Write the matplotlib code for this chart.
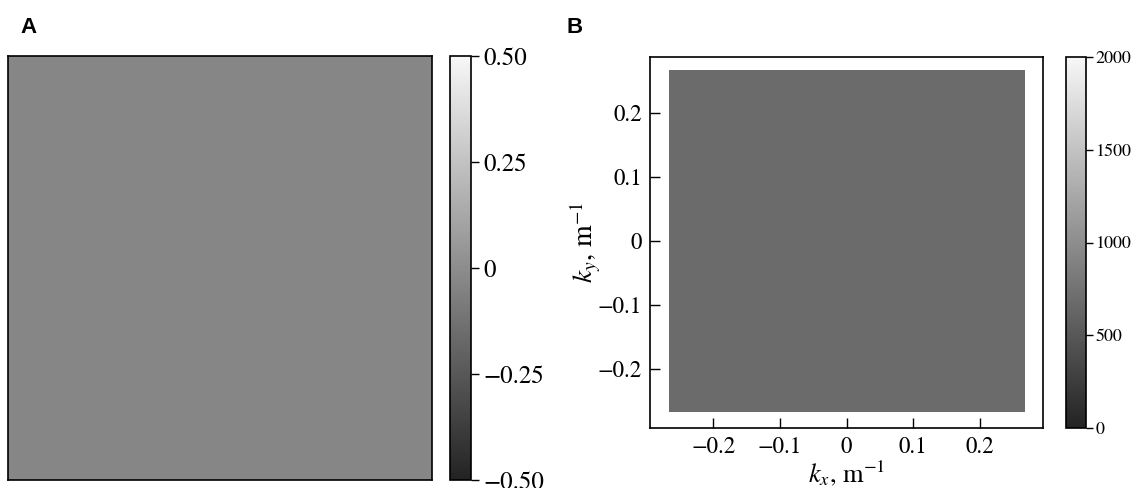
import matplotlib
matplotlib.use("Agg")
import matplotlib.pyplot as plt
import numpy as np
from matplotlib.colors import LinearSegmentedColormap, Normalize
from matplotlib.cm import ScalarMappable

plt.rcParams['font.family'] = ['STIXGeneral', 'DejaVu Serif']
plt.rcParams['mathtext.fontset'] = 'stix'

# ---- data ----
field_a = [[-0.03]]                 # spatial noise field, mean level
extent_a = [0, 1, 0, 1]
spectrum_b = [[680.0]]              # power spectrum level
k_extent = [-0.267, 0.267, -0.267, 0.267]
cbar_a_ticks = [-0.5, -0.25, 0, 0.25, 0.5]
cbar_a_labels = ["\u22120.50", "\u22120.25", "0", "0.25", "0.50"]
cbar_b_ticks = [0, 500, 1000, 1500, 2000]
cbar_b_labels = ["0", "500", "1000", "1500", "2000"]
k_ticks = [-0.2, -0.1, 0, 0.1, 0.2]
k_labels = ["\u22120.2", "\u22120.1", "0", "0.1", "0.2"]

cmap = LinearSegmentedColormap.from_list("g", ["#232323", "#f7f7f7"])

W, H = 1138, 488
fig = plt.figure(figsize=(W / 100, H / 100), dpi=100)

def box(x0, y0, x1, y1):
    return [x0 / W, 1 - y1 / H, (x1 - x0) / W, (y1 - y0) / H]

# Panel A
axA = fig.add_axes(box(8, 56, 432, 480))
normA = Normalize(-0.5, 0.5)
axA.imshow(np.array(field_a), cmap=cmap, norm=normA, extent=extent_a, aspect='auto')
axA.set_xticks([]); axA.set_yticks([])
for s in axA.spines.values():
    s.set_linewidth(1.2)

caxA = fig.add_axes(box(450, 56, 471, 480))
cbA = fig.colorbar(ScalarMappable(norm=normA, cmap=cmap), cax=caxA)
cbA.set_ticks(cbar_a_ticks)
cbA.set_ticklabels(cbar_a_labels)
caxA.tick_params(labelsize=18, length=6, width=1, pad=3)
cbA.outline.set_linewidth(1.2)

# Panel B
axB = fig.add_axes(box(650, 57, 1043, 428))
normB = Normalize(0, 2000)
axB.imshow(np.array(spectrum_b), cmap=cmap, norm=normB, extent=k_extent, aspect='auto')
axB.set_xlim(-0.295, 0.295)
axB.set_ylim(-0.292, 0.288)
axB.set_xticks(k_ticks)
axB.set_xticklabels(k_labels)
axB.set_yticks(k_ticks)
axB.set_yticklabels(k_labels)
axB.tick_params(direction='in', length=7, width=1, labelsize=16.5, pad=6)
axB.set_xlabel(r"$k_x$, m$^{-1}$", fontsize=19, labelpad=1)
axB.set_ylabel(r"$k_y$, m$^{-1}$", fontsize=20, labelpad=-4)
for s in axB.spines.values():
    s.set_linewidth(1.2)

caxB = fig.add_axes(box(1066, 57, 1086, 428))
cbB = fig.colorbar(ScalarMappable(norm=normB, cmap=cmap), cax=caxB)
cbB.set_ticks(cbar_b_ticks)
cbB.set_ticklabels(cbar_b_labels)
caxB.tick_params(labelsize=13, length=5, width=1, pad=2)
cbB.outline.set_linewidth(1.2)

# Panel letters
fig.text(20 / W, 1 - 33 / H, "A", fontsize=16, fontweight='bold', family='Liberation Sans')
fig.text(566 / W, 1 - 33 / H, "B", fontsize=16, fontweight='bold', family='Liberation Sans')

fig.savefig("out.png", dpi=100)
